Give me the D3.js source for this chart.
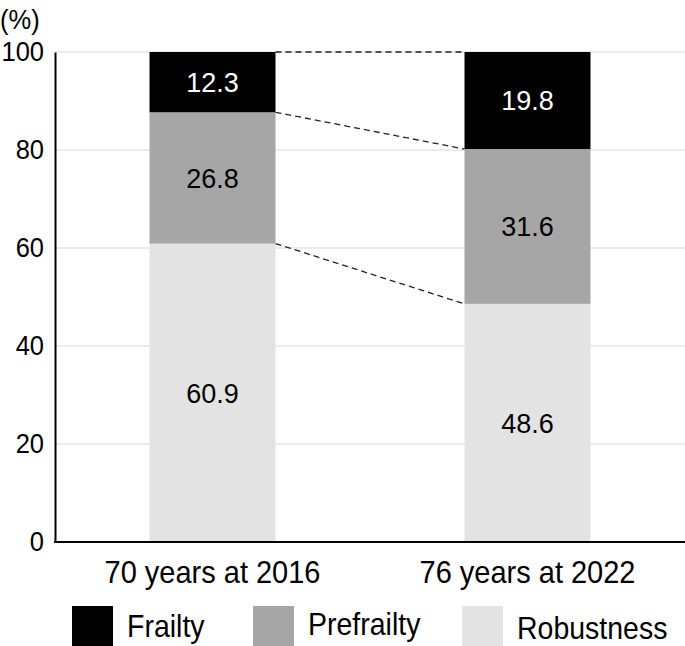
<!DOCTYPE html>
<html>
<head>
<meta charset="utf-8">
<script src="https://cdn.jsdelivr.net/npm/d3@7"></script>
<style>
  html, body { margin: 0; padding: 0; background: #fff; }
  svg { display: block; font-family: "Liberation Sans", Arial, sans-serif; }
</style>
</head>
<body>
<div id="chart"></div>
<script>
const categories = ['70 years at 2016', '76 years at 2022']
const seriesNames = ['Robustness', 'Prefrailty', 'Frailty']
const robustness = [60.9, 48.6]
const prefrailty = [26.8, 31.6]
const frailty = [12.3, 19.8]
const yTicks = [0, 20, 40, 60, 80, 100]

const colors = { Robustness: '#e3e3e3', Prefrailty: '#a6a6a6', Frailty: '#000000' }
const labelColors = { Robustness: '#000', Prefrailty: '#000', Frailty: '#fff' }

const W = 685, H = 646
const margin = { top: 52, right: 0, bottom: 104, left: 55 }
const FONT = '"Liberation Sans", Arial, sans-serif'

const rows = categories.map((c, i) => ({
  category: c,
  Robustness: robustness[i],
  Prefrailty: prefrailty[i],
  Frailty: frailty[i],
}))

const stacked = d3.stack().keys(seriesNames)(rows)

const svg = d3.select('#chart').append('svg')
  .attr('width', W)
  .attr('height', H)

const x = d3.scaleBand()
  .domain(categories)
  .range([margin.left, W - margin.right])
  .paddingInner(0.6)
  .paddingOuter(0.3)

const y = d3.scaleLinear()
  .domain([0, 100])
  .range([H - margin.bottom, margin.top])

// gridlines
svg.append('g')
  .selectAll('line')
  .data(yTicks.filter(t => t > 0))
  .join('line')
  .attr('x1', margin.left)
  .attr('x2', W)
  .attr('y1', d => y(d))
  .attr('y2', d => y(d))
  .attr('stroke', '#ebebeb')
  .attr('stroke-width', 2)

// bars
const layer = svg.append('g')
  .selectAll('g')
  .data(stacked)
  .join('g')
  .attr('fill', d => colors[d.key])

layer.selectAll('rect')
  .data(d => d.map(v => ({ key: d.key, v })))
  .join('rect')
  .attr('x', d => x(d.v.data.category))
  .attr('width', x.bandwidth())
  .attr('y', d => y(d.v[1]))
  .attr('height', d => y(d.v[0]) - y(d.v[1]))

// value labels
layer.selectAll('text')
  .data(d => d.map(v => ({ key: d.key, v })))
  .join('text')
  .attr('x', d => x(d.v.data.category) + x.bandwidth() / 2)
  .attr('y', d => y((d.v[0] + d.v[1]) / 2))
  .attr('dy', '0.36em')
  .attr('text-anchor', 'middle')
  .attr('font-size', 27)
  .attr('fill', d => labelColors[d.key])
  .text(d => d.v.data[d.key].toFixed(1))

// dashed connectors between the bars
const levels = stacked.map(s => [s[0][1], s[1][1]])
svg.append('g')
  .selectAll('line')
  .data(levels)
  .join('line')
  .attr('x1', x(categories[0]) + x.bandwidth())
  .attr('x2', x(categories[1]))
  .attr('y1', d => y(d[0]))
  .attr('y2', d => y(d[1]))
  .attr('stroke', '#222')
  .attr('stroke-width', 1.3)
  .attr('stroke-dasharray', '6,4')

// y axis
const yAxis = svg.append('g')
  .attr('transform', `translate(${margin.left},0)`)
  .call(d3.axisLeft(y).tickValues(yTicks).tickSize(0).tickPadding(11))
yAxis.select('.domain').attr('stroke', '#000').attr('stroke-width', 2)
yAxis.selectAll('text')
  .attr('font-size', 25.5)
  .attr('font-family', FONT)
  .attr('fill', '#000')
  .attr('transform', 'scale(1,1.1)')

// x axis
const xAxis = svg.append('g')
  .attr('transform', `translate(0,${y(0)})`)
  .call(d3.axisBottom(x).tickSize(0).tickPadding(18))
xAxis.select('.domain').remove()
xAxis.append('line')
  .attr('x1', margin.left - 1)
  .attr('x2', W)
  .attr('stroke', '#000')
  .attr('stroke-width', 2)
xAxis.selectAll('text')
  .attr('font-size', 29)
  .attr('font-family', FONT)
  .attr('fill', '#000')
  .attr('transform', 'scale(1,1.06)')

svg.append('text')
  .attr('transform', 'translate(0,29) scale(1,1.1)')
  .attr('font-size', 25.5)
  .text('(%)')

// legend
const legendItems = [
  { name: 'Frailty', x: 72, base: 637 },
  { name: 'Prefrailty', x: 253, base: 635 },
  { name: 'Robustness', x: 462, base: 639 },
]
const legend = svg.append('g')
  .selectAll('g')
  .data(legendItems)
  .join('g')
  .attr('transform', d => `translate(${d.x},0)`)
legend.append('rect')
  .attr('y', 606)
  .attr('width', 41)
  .attr('height', 40)
  .attr('fill', d => colors[d.name])
legend.append('text')
  .attr('transform', d => `translate(55,${d.base}) scale(1,1.12)`)
  .attr('font-size', 28.5)
  .text(d => d.name)
</script>
</body>
</html>
